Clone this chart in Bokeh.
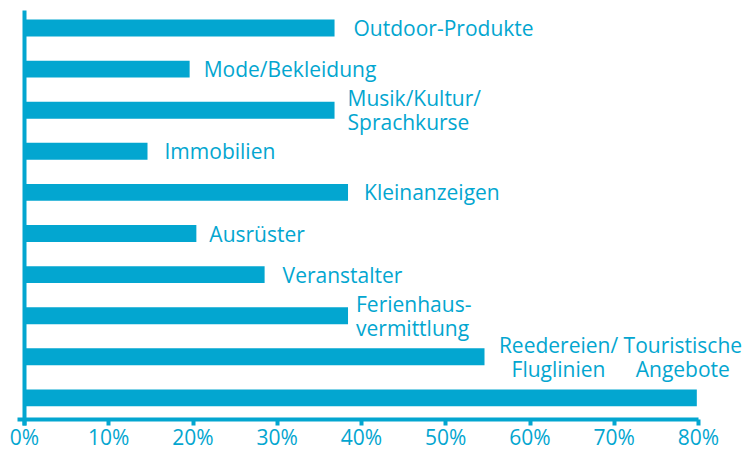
from bokeh.plotting import figure
from bokeh.models import ColumnDataSource, Range1d
from bokeh.core.properties import value
from bokeh.embed import file_html
from bokeh.resources import INLINE

# ---- data ----
categories = [
    "Outdoor-Produkte",
    "Mode/Bekleidung",
    "Musik/Kultur/\nSprachkurse",
    "Immobilien",
    "Kleinanzeigen",
    "Ausrüster",
    "Veranstalter",
    "Ferienhaus-\nvermittlung",
    "Reedereien/\nFluglinien",
    "Touristische\nAngebote",
]
shares = [36.8, 19.6, 36.8, 14.6, 38.4, 20.4, 28.5, 38.4, 54.6, 79.8]
tick_values = [0, 10, 20, 30, 40, 50, 60, 70, 80]
tick_labels = ["0%", "10%", "20%", "30%", "40%", "50%", "60%", "70%", "80%"]

# ---- label layout (styling only) ----
label_align = ["left", "left", "left", "left", "left", "left", "left", "left", "center", "center"]
label_dx = [19, 14, 13, 17, 16, 13, 18, 8, 74, -14]
label_dy = [0, 0, 0, 0, 0, 0, 0, 0, 0, -41]

COLOR = "#03a6d0"
FONT = "Open Sans"

rows = list(range(len(categories)))
src = ColumnDataSource(dict(
    y=rows, v=shares, label=categories,
    align=label_align, dx=label_dx, dy=label_dy,
))

# pixel geometry -> ranges
W, H = 745, 451
px_per_pct = 8.425
zero_px = 24
px_per_row = 41.1
row0_px = 27.5

def row_at(px):
    return (px - row0_px) / px_per_row

x_start = -zero_px / px_per_pct
x_end = (W - zero_px) / px_per_pct

p = figure(
    width=W, height=H,
    x_range=Range1d(x_start, x_end),
    y_range=Range1d(row_at(H), row_at(0)),
    output_backend="svg", toolbar_location=None,
    min_border_left=0, min_border_right=0, min_border_top=0, min_border_bottom=0,
)
p.outline_line_color = None
p.grid.visible = False
p.background_fill_color = "white"
p.border_fill_color = "white"

p.hbar(y="y", left=0, right="v", height=0.41, source=src, fill_color=COLOR, line_color=None)

p.text(x="v", y="y", text="label", source=src,
       x_offset="dx", y_offset="dy", text_align="align",
       text_baseline="middle", text_font=value(FONT), text_font_size="21px",
       text_color=COLOR, text_line_height=0.87)

# vertical axis line
yax = p.yaxis[0]
yax.fixed_location = 0
yax.bounds = (row_at(10), row_at(425))
yax.ticker = []
yax.axis_line_color = COLOR
yax.axis_line_width = 4
yax.major_tick_line_color = None
yax.minor_tick_line_color = None

# horizontal axis
ax = p.xaxis[0]
ax.fixed_location = row_at(419)
ax.bounds = (-0.85, 80)
ax.ticker = tick_values
ax.major_label_overrides = {v: t for v, t in zip(tick_values, tick_labels)}
ax.axis_line_color = COLOR
ax.axis_line_width = 4
ax.major_tick_line_color = COLOR
ax.major_tick_line_width = 4
ax.major_tick_in = 0
ax.major_tick_out = 6
ax.minor_tick_line_color = None
ax.major_label_text_color = COLOR
ax.major_label_text_font = FONT
ax.major_label_text_font_size = "21px"
ax.major_label_standoff = -3

open("out.html", "w").write(file_html(p, INLINE))
